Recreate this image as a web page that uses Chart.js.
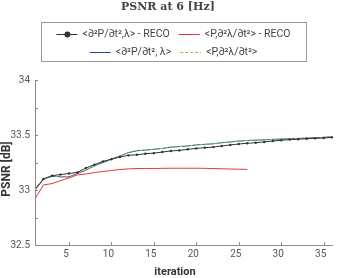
<!DOCTYPE html>
<html><head><meta charset="utf-8">
<script src="https://cdn.jsdelivr.net/npm/chart.js@4.4.0/dist/chart.umd.min.js"></script>
<style>html,body{margin:0;padding:0;background:#fff}#wrap{width:337px;height:278px}</style>
</head><body><div id="wrap"><canvas id="c" width="337" height="278"></canvas></div>
<script>
const iterations = [1,2,3,4,5,6,7,8,9,10,11,12,13,14,15,16,17,18,19,20,21,22,23,24,25,26,27,28,29,30,31,32,33,34,35,36];
const recoDtt = [33.00,33.10,33.13,33.14,33.15,33.16,33.20,33.23,33.26,33.28,33.30,33.315,33.32,33.33,33.335,33.345,33.355,33.36,33.37,33.378,33.385,33.39,33.40,33.41,33.418,33.425,33.43,33.437,33.445,33.452,33.458,33.462,33.466,33.47,33.473,33.478];
const recoAdj = [32.92,33.046,33.058,33.085,33.11,33.137,33.146,33.158,33.168,33.177,33.186,33.192,33.195,33.196,33.196,33.197,33.198,33.198,33.198,33.198,33.197,33.195,33.193,33.191,33.189,33.187];
const dtt = [33.01,33.10,33.125,33.12,33.12,33.15,33.18,33.22,33.25,33.28,33.31,33.34,33.357,33.363,33.37,33.378,33.39,33.395,33.40,33.41,33.415,33.42,33.43,33.437,33.445,33.45,33.453,33.456,33.46,33.463,33.466,33.469,33.472,33.475,33.478,33.485];
const adj = [33.01,33.10,33.125,33.12,33.12,33.15,33.18,33.22,33.25,33.28,33.31,33.34,33.357,33.363,33.37,33.378,33.39,33.395,33.40,33.41,33.415,33.42,33.43,33.437,33.445,33.45,33.453,33.456,33.46,33.463,33.466,33.469,33.472,33.475,33.478,33.485];
const labels = ['<∂²P/∂t²,λ> - RECO','<P,∂²λ/∂t²> - RECO','<∂²P/∂t², λ>','<P,∂²λ/∂t²>'];
const xTicks = [5,10,15,20,25,30,35];
const yTicks = [32.5,32.75,33,33.25,33.5,33.75,34];
const yLabelTicks = [32.5,33,33.5,34];
const titleText = 'PSNR at 6 [Hz]';
const xTitle = 'iteration';
const yTitle = 'PSNR [dB]';

const pts = (xs, ys) => ys.map((v,i)=>({x:xs[i], y:v}));
const TICKFONT = '10px Roboto';

const extras = {
  id:'extras',
  afterDraw(chart){
    const ctx = chart.ctx, ca = chart.chartArea, xs = chart.scales.x, ys = chart.scales.y;
    ctx.save();
    ctx.strokeStyle = '#8a8a8a'; ctx.lineWidth = 1;
    ctx.beginPath();
    ctx.moveTo(ca.left+0.5, ca.top); ctx.lineTo(ca.left+0.5, ca.bottom+0.5); ctx.lineTo(ca.right, ca.bottom+0.5);
    ctx.stroke();
    ctx.beginPath();
    yTicks.forEach(v=>{const p=Math.round(ys.getPixelForValue(v))+0.5; ctx.moveTo(ca.left,p); ctx.lineTo(ca.left+3,p);});
    xTicks.forEach(v=>{const p=Math.round(xs.getPixelForValue(v))+0.5; ctx.moveTo(p,ca.bottom); ctx.lineTo(p,ca.bottom-3);});
    ctx.stroke();
    ctx.fillStyle = '#555'; ctx.font = TICKFONT;
    ctx.textAlign='right'; ctx.textBaseline='middle';
    yLabelTicks.forEach(v=>ctx.fillText(String(v), ca.left-5, ys.getPixelForValue(v)));
    ctx.textAlign='center'; ctx.textBaseline='top';
    xTicks.forEach(v=>ctx.fillText(String(v), xs.getPixelForValue(v)-3, ca.bottom+4));
    ctx.fillStyle='#333'; ctx.font='bold 11px Roboto';
    ctx.textBaseline='middle';
    ctx.fillText(xTitle, 175, 272);
    ctx.font='bold 12px Roboto';
    ctx.save(); ctx.translate(7, 169); ctx.rotate(-Math.PI/2);
    ctx.fillText(yTitle,0,0); ctx.restore();
    ctx.font='bold 11px "DejaVu Serif"'; ctx.fillStyle='#444';
    ctx.fillText(titleText, 168, 7);
    const bx=41, by=22, bw=265, bh=39;
    ctx.fillStyle='#fff'; ctx.fillRect(bx,by,bw,bh);
    ctx.strokeStyle='#999'; ctx.strokeRect(bx+0.5,by+0.5,bw,bh);
    ctx.font='10.5px Roboto'; ctx.textAlign='left';
    const ds = chart.data.datasets;
    const rows=[[0,1],[2,3]], rowY=[by+11.5,by+29.5];
    rows.forEach((r,ri)=>{
      const ws = r.map(i=>21+5+ctx.measureText(ds[i].label).width);
      const total = ws[0]+ws[1]+9;
      let x = bx + bw/2 - total/2;
      r.forEach((i,k)=>{
        const d=ds[i], y=Math.round(rowY[ri])+0.5;
        ctx.strokeStyle=d.borderColor; ctx.lineWidth=1;
        ctx.setLineDash(d.borderDash||[]);
        ctx.beginPath(); ctx.moveTo(x,y); ctx.lineTo(x+21,y); ctx.stroke();
        ctx.setLineDash([]);
        if(i===0){ctx.fillStyle=d.borderColor; ctx.beginPath(); ctx.arc(x+11,y,3,0,Math.PI*2); ctx.fill();}
        ctx.fillStyle='#444'; ctx.textBaseline='middle';
        ctx.fillText(d.label, x+26, y);
        x += ws[k]+9;
      });
    });
    ctx.restore();
  }
};

new Chart(document.getElementById('c'), {
  type:'line',
  data:{datasets:[
    {label:labels[0], data:pts(iterations,recoDtt), borderColor:'#333', backgroundColor:'#333', borderWidth:1, pointRadius:1.2, pointBorderWidth:0, order:1},
    {label:labels[1], data:pts(iterations,recoAdj), borderColor:'#e8353b', borderWidth:1, pointRadius:0, order:4},
    {label:labels[2], data:pts(iterations,dtt), borderColor:'#1f4a94', borderWidth:1, pointRadius:0, order:3},
    {label:labels[3], data:pts(iterations,adj), borderColor:'#8cc04a', borderWidth:1, borderDash:[3,2], pointRadius:0, order:2}
  ]},
  options:{
    responsive:false, animation:false, events:[],
    layout:{padding:{top:80,right:1,left:0,bottom:0}},
    plugins:{legend:{display:false}, title:{display:false}, tooltip:{enabled:false}},
    scales:{
      x:{type:'linear', min:1, max:36.1, grid:{display:false}, border:{display:false},
         ticks:{display:false}, afterFit(s){s.height=33;}},
      y:{type:'linear', min:32.5, max:34, grid:{display:false}, border:{display:false},
         ticks:{display:false}, afterFit(s){s.width=35;}}
    }
  },
  plugins:[extras]
});
</script></body></html>
